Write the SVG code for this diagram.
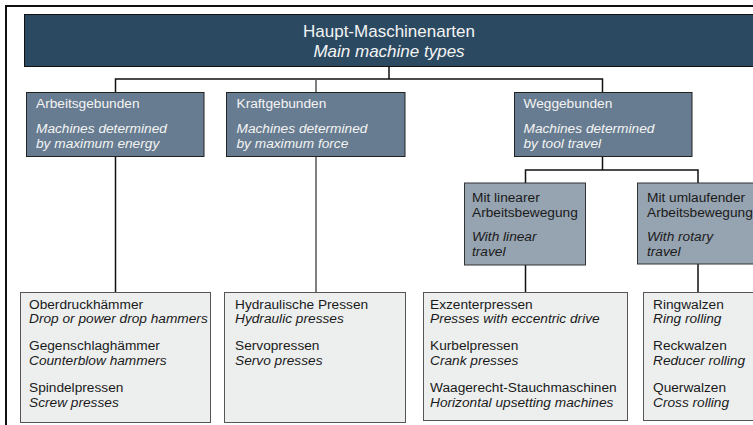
<svg xmlns="http://www.w3.org/2000/svg" width="753" height="425" viewBox="0 0 753 425">
<style>
text{font-family:"Liberation Sans",Arial,sans-serif;font-size:13.7px}
.it{font-style:italic}
.top{fill:#2b4a62;stroke:#111;stroke-width:1}
.cat{fill:#677c90;stroke:#222;stroke-width:1}
.sub{fill:#96a3b0;stroke:#333;stroke-width:1}
.leaf{fill:#edefef;stroke:#555;stroke-width:1}
.wt{fill:#f4f4f4}
.dk{fill:#1a1a1a}
.ttl{font-size:17px}
.ln{fill:none;stroke:#111;stroke-width:1.5}
</style>
<rect x="0" y="0" width="753" height="425" fill="#fff"/>
<rect x="6" y="6" width="800" height="500" fill="none" stroke="#111" stroke-width="2"/>
<g id="connectors">
<path class="ln" d="M389 66.5V79M115.5 93V79H602.5V93"/>
<path class="ln" d="M316 79V93" style="stroke:#555"/>
<path class="ln" d="M115.5 156V292.5"/>
<path class="ln" d="M316 156V292.5" style="stroke:#555"/>
<path class="ln" d="M602.5 156.5V170M525.5 183V170H698V183"/>
<path class="ln" d="M525.5 265V292.5M698 264V292.5"/>
</g>
<g id="root">
<rect class="top" x="24.5" y="14.5" width="760" height="52"/>
<text x="389" y="37" text-anchor="middle" class="wt ttl">Haupt-Maschinenarten</text>
<text x="389" y="57" text-anchor="middle" class="wt it ttl">Main machine types</text>
</g>
<g id="arbeitsgebunden">
<rect class="cat" x="26.5" y="92.5" width="177.5" height="64"/>
<text x="36" y="108" class="wt">Arbeitsgebunden</text>
<text x="36" y="133" class="wt it">Machines determined</text>
<text x="36" y="148" class="wt it">by maximum energy</text>
</g>
<g id="kraftgebunden">
<rect class="cat" x="226.5" y="92.5" width="178.5" height="64"/>
<text x="236.5" y="108" class="wt">Kraftgebunden</text>
<text x="236.5" y="133" class="wt it">Machines determined</text>
<text x="236.5" y="148" class="wt it">by maximum force</text>
</g>
<g id="weggebunden">
<rect class="cat" x="514.5" y="92.5" width="177.5" height="64"/>
<text x="523.5" y="108" class="wt">Weggebunden</text>
<text x="523.5" y="133" class="wt it">Machines determined</text>
<text x="523.5" y="148" class="wt it">by tool travel</text>
</g>
<g id="linear">
<rect class="sub" x="464.5" y="183" width="121" height="82"/>
<text x="472" y="202" class="dk">Mit linearer</text>
<text x="472" y="217" class="dk">Arbeitsbewegung</text>
<text x="472" y="241" class="dk it">With linear</text>
<text x="472" y="256" class="dk it">travel</text>
</g>
<g id="rotary">
<rect class="sub" x="637.5" y="183" width="130" height="81"/>
<text x="647" y="202" class="dk">Mit umlaufender</text>
<text x="647" y="217" class="dk">Arbeitsbewegung</text>
<text x="647" y="241" class="dk it">With rotary</text>
<text x="647" y="256" class="dk it">travel</text>
</g>
<g id="leaf-energy">
<rect class="leaf" x="20.5" y="292.5" width="190" height="130"/>
<text x="29" y="309" class="dk">Oberdruckhämmer</text>
<text x="29" y="323" class="dk it">Drop or power drop hammers</text>
<text x="29" y="350" class="dk">Gegenschlaghämmer</text>
<text x="29" y="365" class="dk it">Counterblow hammers</text>
<text x="29" y="392" class="dk">Spindelpressen</text>
<text x="29" y="407" class="dk it">Screw presses</text>
</g>
<g id="leaf-force">
<rect class="leaf" x="224.5" y="292.5" width="181" height="130"/>
<text x="235" y="309" class="dk">Hydraulische Pressen</text>
<text x="235" y="323" class="dk it">Hydraulic presses</text>
<text x="235" y="350" class="dk">Servopressen</text>
<text x="235" y="365" class="dk it">Servo presses</text>
</g>
<g id="leaf-linear">
<rect class="leaf" x="423.5" y="292.5" width="204" height="128"/>
<text x="430" y="309" class="dk">Exzenterpressen</text>
<text x="430" y="323" class="dk it">Presses with eccentric drive</text>
<text x="430" y="350" class="dk">Kurbelpressen</text>
<text x="430" y="365" class="dk it">Crank presses</text>
<text x="430" y="392" class="dk">Waagerecht-Stauchmaschinen</text>
<text x="430" y="407" class="dk it">Horizontal upsetting machines</text>
</g>
<g id="leaf-rotary">
<rect class="leaf" x="643.5" y="292.5" width="130" height="128"/>
<text x="653" y="309" class="dk">Ringwalzen</text>
<text x="653" y="323" class="dk it">Ring rolling</text>
<text x="653" y="350" class="dk">Reckwalzen</text>
<text x="653" y="365" class="dk it">Reducer rolling</text>
<text x="653" y="392" class="dk">Querwalzen</text>
<text x="653" y="407" class="dk it">Cross rolling</text>
</g>
</svg>
